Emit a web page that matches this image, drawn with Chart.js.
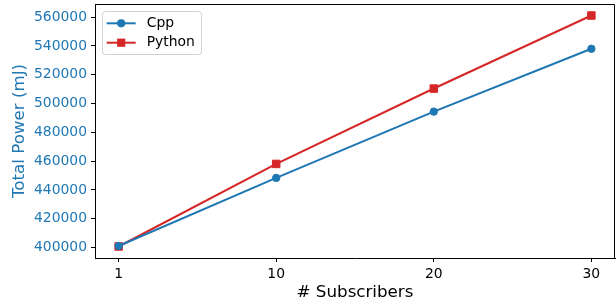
<!DOCTYPE html>
<html>
<head>
<meta charset="utf-8">
<script src="https://cdn.jsdelivr.net/npm/chart.js@4.4.1/dist/chart.umd.min.js"></script>
<style>
  html, body { margin: 0; padding: 0; background: #fff; }
  #wrap { width: 616px; height: 305px; }
</style>
</head>
<body>
<div id="wrap"><canvas id="grafica"></canvas></div>
<script>
// Datos
const suscriptores = ['1', '10', '20', '30'];
const potenciaCpp = [401100, 448400, 494400, 538000];
const potenciaPython = [400800, 458100, 510400, 561100];
const ticksY = [400000, 420000, 440000, 460000, 480000, 500000, 520000, 540000, 560000];

const AZUL = '#1f77b4';
const ROJO = '#d62728';
const FUENTE = 'DejaVu Sans';

const aPuntos = valores => valores.map((v, i) => ({ x: i, y: v }));

// Marco superior y derecho + leyenda al estilo matplotlib
const marcoYLeyenda = {
    id: 'marcoYLeyenda',
    afterDatasetsDraw(chart) {
        const { ctx, chartArea: a } = chart;
        ctx.save();
        ctx.strokeStyle = '#000';
        ctx.lineWidth = 1;
        ctx.beginPath();
        ctx.moveTo(Math.round(a.left) + 0.5, Math.round(a.top) + 0.5);
        ctx.lineTo(Math.round(a.right) - 0.5, Math.round(a.top) + 0.5);
        ctx.lineTo(Math.round(a.right) - 0.5, Math.round(a.bottom) + 0.5);
        ctx.stroke();

        // caja de la leyenda
        const bx = a.left + 7, by = a.top + 7, bw = 99, bh = 43;
        ctx.beginPath();
        ctx.roundRect(bx + 0.5, by + 0.5, bw, bh, 3);
        ctx.fillStyle = 'rgba(255,255,255,0.8)';
        ctx.fill();
        ctx.strokeStyle = '#d0d0d0';
        ctx.stroke();

        ctx.font = '13.9px "' + FUENTE + '"';
        ctx.textBaseline = 'middle';
        chart.data.datasets.forEach((ds, i) => {
            const y = by + 12.3 + i * 19.4;
            const x0 = bx + 4.7, x1 = x0 + 29;
            ctx.strokeStyle = ds.borderColor;
            ctx.lineWidth = 2;
            ctx.beginPath();
            ctx.moveTo(x0, y);
            ctx.lineTo(x1, y);
            ctx.stroke();
            ctx.fillStyle = ds.borderColor;
            const cx = (x0 + x1) / 2;
            ctx.beginPath();
            if (ds.pointStyle === 'rect') {
                ctx.rect(cx - 4.1, y - 4.1, 8.2, 8.2);
            } else {
                ctx.arc(cx, y, 4.1, 0, Math.PI * 2);
            }
            ctx.fill();
            ctx.fillStyle = '#000';
            ctx.textAlign = 'left';
            ctx.fillText(ds.label, x1 + 11, y);
        });
        ctx.restore();
    }
};

new Chart(document.getElementById('grafica'), {
    type: 'line',
    data: {
        datasets: [
            {
                label: 'Cpp',
                data: aPuntos(potenciaCpp),
                borderColor: AZUL,
                backgroundColor: AZUL,
                borderWidth: 2.1,
                pointStyle: 'circle',
                pointRadius: 3.7,
                pointBorderWidth: 1,
                pointBackgroundColor: AZUL,
                pointBorderColor: AZUL,
                tension: 0,
                clip: false,
            },
            {
                label: 'Python',
                data: aPuntos(potenciaPython),
                borderColor: ROJO,
                backgroundColor: ROJO,
                borderWidth: 2.1,
                pointStyle: 'rect',
                pointRadius: 5.3,
                pointBorderWidth: 1,
                pointBackgroundColor: ROJO,
                pointBorderColor: ROJO,
                tension: 0,
                clip: false,
            },
        ],
    },
    options: {
        responsive: true,
        maintainAspectRatio: false,
        animation: false,
        layout: { autoPadding: false, padding: { top: 4, right: 1, left: 0, bottom: 0 } },
        plugins: {
            legend: { display: false },
            tooltip: { enabled: false },
        },
        scales: {
            x: {
                type: 'linear',
                min: -0.15,
                max: 3.15,
                afterBuildTicks: scale => {
                    scale.ticks = suscriptores.map((_, i) => ({ value: i }));
                },
                afterFit: scale => {
                    scale.height = 47;
                    scale.paddingLeft = 0;
                    scale.paddingRight = 0;
                },
                grid: { display: true, drawOnChartArea: false, drawTicks: true, tickLength: 4, color: '#000' },
                border: { display: true, color: '#000', width: 1 },
                ticks: {
                    callback: v => suscriptores[v],
                    color: '#000',
                    padding: 4,
                    maxRotation: 0,
                    font: { family: FUENTE, size: 13.9 },
                },
                title: {
                    display: true,
                    text: '# Subscribers',
                    color: '#000',
                    font: { family: FUENTE, size: 16.7, lineHeight: 1.2 },
                    padding: { top: 0, bottom: 2 },
                },
            },
            y: {
                min: 392800,
                max: 569100,
                afterBuildTicks: scale => {
                    scale.ticks = ticksY.map(v => ({ value: v }));
                },
                afterFit: scale => {
                    scale.width = 95;
                    scale.paddingTop = 0;
                    scale.paddingBottom = 0;
                },
                grid: { display: true, drawOnChartArea: false, drawTicks: true, tickLength: 4, color: '#000' },
                border: { display: true, color: '#000', width: 1 },
                ticks: {
                    callback: v => String(v),
                    color: AZUL,
                    padding: 4,
                    font: { family: FUENTE, size: 13.9 },
                },
                title: {
                    display: true,
                    text: 'Total Power (mJ)',
                    color: AZUL,
                    font: { family: FUENTE, size: 16.7, lineHeight: 1.2 },
                    padding: { top: 10, bottom: 0 },
                },
            },
        },
    },
    plugins: [marcoYLeyenda],
});
</script>
</body>
</html>
